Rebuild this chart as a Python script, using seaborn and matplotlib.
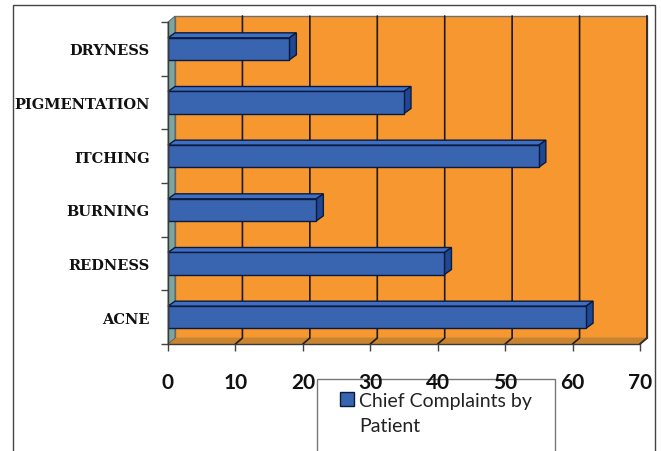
import matplotlib
matplotlib.use("Agg")
import matplotlib.pyplot as plt
import seaborn as sns
import numpy as np
from matplotlib.patches import Polygon, Rectangle
from matplotlib.transforms import IdentityTransform
from matplotlib.lines import Line2D

categories = ["DRYNESS", "PIGMENTATION", "ITCHING", "BURNING", "REDNESS", "ACNE"]
values = [18, 35, 55, 22, 41, 62]
x_ticks = [0, 10, 20, 30, 40, 50, 60, 70]
series_lines = ["Chief Complaints by", "Patient"]

W, H = 662, 452
sns.set_style("white")
fig = plt.figure(figsize=(W / 100, H / 100), dpi=100)
fig.patch.set_facecolor("white")

# front plane of the 3D plot in pixels (from top-left)
L, R, T, B = 168, 640, 23, 345
ax = fig.add_axes([L / W, (H - B) / H, (R - L) / W, (B - T) / H])
ax.set_facecolor("none")
ax.set_zorder(1)

FRONT = "#3964b0"
TOPC = "#3f6fc4"
SIDE = "#1f4894"
EDGE = "#0b1a3c"
ORANGE = "#f6982f"
FLOOR = "#c8842f"
TEAL = "#7ba59e"
GRID = "#1e1a14"

sns.barplot(x=values, y=categories, orient="h", width=0.41, color=FRONT,
            saturation=1, edgecolor=EDGE, linewidth=1.0, ax=ax, zorder=5)
ax.set_xlim(0, 70)
ax.set_ylim(len(categories) - 0.5, -0.5)

idt = IdentityTransform()
dx, dy = 7, 6
td = ax.transData


def P(x, y, s=0.0, ox=dx, oy=dy):
    px, py = td.transform((x, y))
    return (px + s * ox, py + s * oy)


bars = [p for p in ax.patches if isinstance(p, Rectangle)]

y_top, y_bot = -0.5, len(categories) - 0.5
# back wall
wall = Polygon([P(0, y_bot, 1), P(70, y_bot, 1), P(70, y_top, 1), P(0, y_top, 1)],
               closed=True, facecolor=ORANGE, edgecolor="#6f6f6f", lw=1.0,
               transform=idt, zorder=0, clip_on=False)
ax.add_patch(wall)
# floor
floor = Polygon([P(0, y_bot, 0), P(70, y_bot, 0), P(70, y_bot, 1), P(0, y_bot, 1)],
                closed=True, facecolor=FLOOR, edgecolor="none",
                transform=idt, zorder=0.5, clip_on=False)
ax.add_patch(floor)
# left side wall
side = Polygon([P(0, y_bot, 0), P(0, y_top, 0), P(0, y_top, 1), P(0, y_bot, 1)],
               closed=True, facecolor=TEAL, edgecolor="#555555", lw=0.6,
               transform=idt, zorder=0.6, clip_on=False)
ax.add_patch(side)

# gridlines on back wall and floor
for xv in x_ticks[1:]:
    a = P(xv, y_top, 1)
    b = P(xv, y_bot, 1)
    c = P(xv, y_bot, 0)
    ax.add_line(Line2D([a[0], b[0], c[0]], [a[1], b[1], c[1]], color=GRID,
                       lw=1.2, transform=idt, zorder=1, clip_on=False))
a = P(70, y_top, 1); b = P(70, y_bot, 1); c = P(70, y_bot, 0)
ax.add_line(Line2D([a[0], b[0], c[0]], [a[1], b[1], c[1]], color="#333333",
                   lw=1.2, transform=idt, zorder=1, clip_on=False))

# 3D faces of bars
bdx, bdy = 7, 5
for p in bars:
    x0, w = p.get_x(), p.get_width()
    y0, h = p.get_y(), p.get_height()
    yt, yb = min(y0, y0 + h), max(y0, y0 + h)
    x1 = x0 + w
    A = P(x0, yt); Bp = P(x1, yt); C = P(x1, yb)
    top = [A, Bp, (Bp[0] + bdx, Bp[1] + bdy), (A[0] + bdx, A[1] + bdy)]
    sd = [Bp, C, (C[0] + bdx, C[1] + bdy), (Bp[0] + bdx, Bp[1] + bdy)]
    ax.add_patch(Polygon(top, closed=True, facecolor=TOPC, edgecolor=EDGE,
                         lw=1.0, transform=idt, zorder=4, clip_on=False))
    ax.add_patch(Polygon(sd, closed=True, facecolor=SIDE, edgecolor=EDGE,
                         lw=1.0, transform=idt, zorder=4, clip_on=False))

# spines and ticks
for s in ["top", "right"]:
    ax.spines[s].set_visible(False)
for s in ["left", "bottom"]:
    ax.spines[s].set_color("#3a3a3a")
    ax.spines[s].set_linewidth(1.0)
    ax.spines[s].set_zorder(6)

ax.set_xticks(x_ticks)
ax.set_xticklabels([str(v) for v in x_ticks], fontfamily="Lato",
                   fontweight="bold", fontsize=15, color="#111111")
ax.tick_params(axis="x", length=5, width=1, color="#444444", pad=15, bottom=True)
ax.set_yticks(range(len(categories)))
ax.set_yticklabels(categories, fontfamily="DejaVu Serif", fontweight="bold",
                   fontsize=10.5, color="#111111")
ax.tick_params(axis="y", which="major", length=0, pad=13, left=True)
ax.set_yticks(np.arange(len(categories) + 1) - 0.5, minor=True)
ax.tick_params(axis="y", which="minor", length=5, width=1, color="#444444", left=True)
ax.set_xlabel("")
ax.set_ylabel("")
ax.grid(False)

# legend (frame drawn below the axes so tick labels sit on top of it)
fig.add_artist(Rectangle((317 / W, -0.1), (555 - 317) / W, 1.1 - 380 / H,
                         transform=fig.transFigure, facecolor="white",
                         edgecolor="#777777", lw=1.0, zorder=-1))
handles = [Rectangle((0, 0), 1, 1, facecolor=FRONT, edgecolor=EDGE, lw=1.0)]
leg = fig.legend(handles, [series_lines[0]], loc="upper left",
                 bbox_to_anchor=(340 / W, 1 - 393 / H), frameon=False,
                 prop={"family": "Lato", "size": 14},
                 handlelength=0.72, handleheight=0.72, handletextpad=0.25,
                 borderpad=0, borderaxespad=0)
leg.set_zorder(3)
for t in leg.get_texts():
    t.set_color("#222222")
fig.canvas.draw()
tb = leg.get_texts()[0].get_window_extent()
fig.text(tb.x0 / W, (tb.y0 - 25) / H, series_lines[1], fontfamily="Lato",
         fontsize=14, color="#222222", ha="left", va="bottom", zorder=3)

# outer frame
fig.add_artist(Rectangle((13 / W, -0.1), (655 - 13) / W, 1.1 - 6 / H,
                         transform=fig.transFigure, facecolor="none",
                         edgecolor="#444444", lw=1.0, zorder=-0.5))

fig.savefig("out.png", dpi=100)
